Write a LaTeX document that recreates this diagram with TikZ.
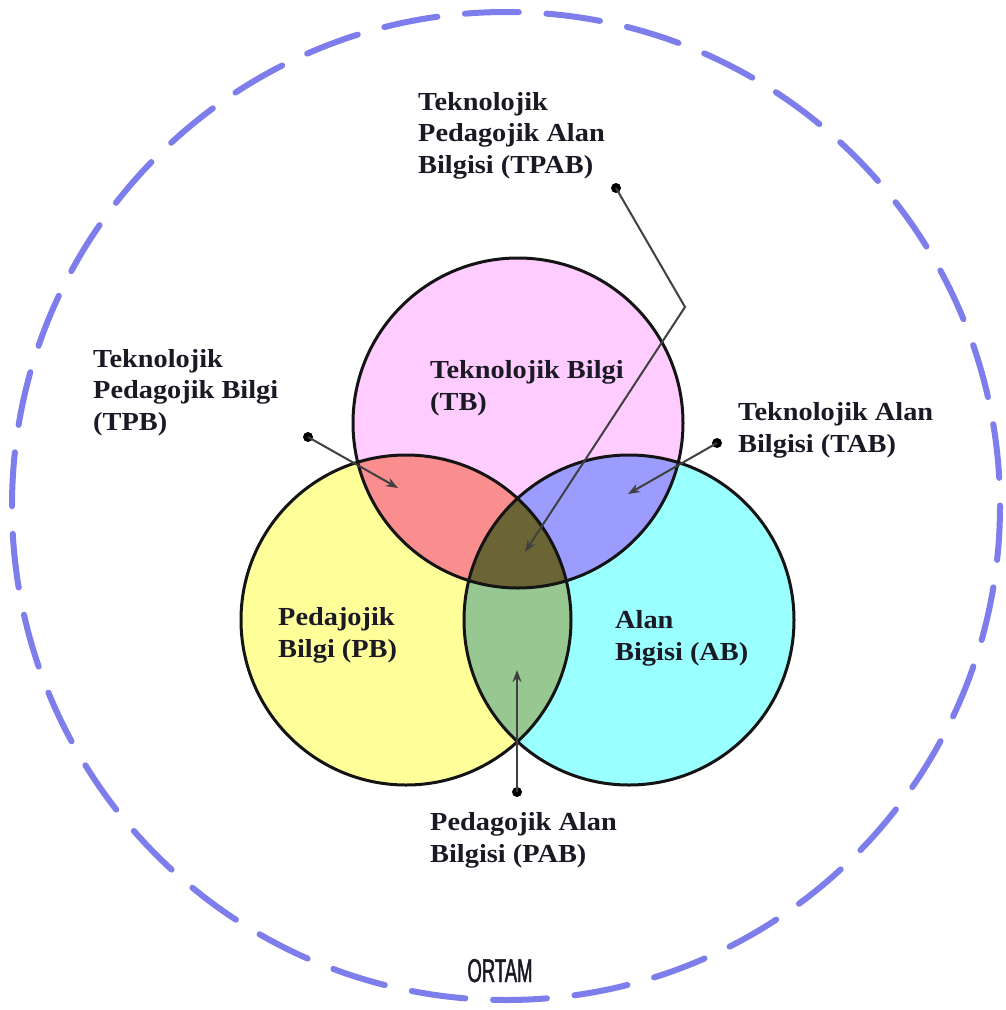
\documentclass[tikz,border=0pt]{standalone}
\usepackage{fontspec}
\setmainfont{Liberation Serif}[FakeStretch=1.09]
\newfontfamily\ortamfont{Liberation Sans}[FakeStretch=0.56,FakeBold=1.3]
\usetikzlibrary{arrows.meta}

\definecolor{pinkfill}{HTML}{FFCCFF}
\definecolor{yellowfill}{HTML}{FFFF99}
\definecolor{cyanfill}{HTML}{99FFFF}
\definecolor{tpbfill}{HTML}{FA8E8E}
\definecolor{tabfill}{HTML}{9C9CFF}
\definecolor{pabfill}{HTML}{98C892}
\definecolor{tpabfill}{HTML}{6B6434}
\definecolor{ringblue}{HTML}{7D7DEB}
\definecolor{labelink}{HTML}{1A1A24}
\definecolor{leadergray}{HTML}{404040}
\definecolor{rimblack}{HTML}{141414}

\begin{document}
\begin{tikzpicture}[x=1pt,y=-1pt,
  % multi-line labels are placed by the baseline of their last line
  lbl/.style={font=\fontsize{26}{31.5}\selectfont\bfseries, text=labelink,
              align=left, anchor=base west, inner sep=0pt},
  leader/.style={draw=leadergray, line width=2pt,
                 -{Stealth[length=12pt,width=9pt,fill=black]}},
  dotmark/.style={circle, fill=black, inner sep=0pt, minimum size=10pt},
  rim/.style={draw=rimblack, line width=3pt},
]
\useasboundingbox (0,0) rectangle (1006,1010);
\fill[white] (0,0) rectangle (1006,1010);

% centres of the three knowledge circles
\coordinate (cT) at (518,423);
\coordinate (cP) at (406,620);
\coordinate (cA) at (629,620);
\def\rr{165}

% environment ring
\draw[ringblue, line width=6pt, line cap=round,
      dash pattern=on 54pt off 27.68pt] (506,506) circle[radius=494];

% base fills
\fill[pinkfill]   (cT) circle[radius=\rr];
\fill[yellowfill] (cP) circle[radius=\rr];
\fill[cyanfill]   (cA) circle[radius=\rr];

% pairwise overlaps
\begin{scope}
  \clip (cT) circle[radius=\rr];
  \fill[tpbfill] (cP) circle[radius=\rr];
  \fill[tabfill] (cA) circle[radius=\rr];
\end{scope}
\begin{scope}
  \clip (cP) circle[radius=\rr];
  \fill[pabfill] (cA) circle[radius=\rr];
\end{scope}
% triple overlap
\begin{scope}
  \clip (cT) circle[radius=\rr];
  \clip (cP) circle[radius=\rr];
  \fill[tpabfill] (cA) circle[radius=\rr];
\end{scope}

% circle outlines
\draw[rim] (cT) circle[radius=\rr];
\draw[rim] (cP) circle[radius=\rr];
\draw[rim] (cA) circle[radius=\rr];

% region labels
\node[lbl] (tb) at (430,410) {Teknolojik Bilgi\\(TB)};
\node[lbl] (pb) at (278,657) {Pedajojik\\Bilgi (PB)};
\node[lbl] (ab) at (615,660) {Alan\\Bigisi (AB)};

% callout labels
\node[lbl] (tpab) at (418,173) {Teknolojik\\Pedagojik Alan\\Bilgisi (TPAB)};
\node[lbl] (tpb)  at (93,430)  {Teknolojik\\Pedagojik Bilgi\\(TPB)};
\node[lbl] (tab)  at (738,452) {Teknolojik Alan\\Bilgisi (TAB)};
\node[lbl] (pab)  at (430,862) {Pedagojik Alan\\Bilgisi (PAB)};

% callout dots, bend and arrow targets
\node[dotmark] (dtpab) at (616,188) {};
\node[dotmark] (dtpb)  at (308,437) {};
\node[dotmark] (dtab)  at (717,443) {};
\node[dotmark] (dpab)  at (517,792) {};
\coordinate (btpab) at (685,307);
\coordinate (ttpab) at (525,552);
\coordinate (ttpb)  at (398,488);
\coordinate (ttab)  at (628,494);
\coordinate (tpab0) at (517,670);

% callout leaders
\draw[leader] (dtpab.center) -- (btpab) -- (ttpab);
\draw[leader] (dtpb.center) -- (ttpb);
\draw[leader] (dtab.center) -- (ttab);
\draw[leader] (dpab.center) -- (tpab0);

% environment caption
\node[font=\ortamfont\fontsize{33}{33}\selectfont, text=labelink,
      anchor=base, inner sep=0pt] (ortam) at (500,982) {ORTAM};
\end{tikzpicture}
\end{document}
